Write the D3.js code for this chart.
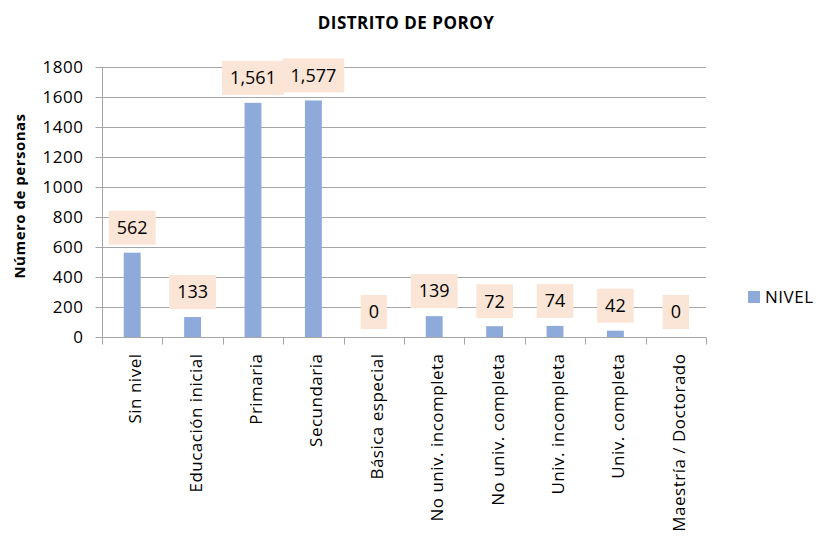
<!DOCTYPE html>
<html>
<head>
<meta charset="utf-8">
<script src="https://cdn.jsdelivr.net/npm/d3@7"></script>
<style>
  html, body { margin: 0; padding: 0; background: #fff; }
  svg { display: block; font-family: "Open Sans", sans-serif; }
</style>
</head>
<body>
<svg id="chart" width="816" height="536"></svg>
<script>
  // Data
  var categories = ["Sin nivel", "Educación inicial", "Primaria", "Secundaria", "Básica especial",
                    "No univ. incompleta", "No univ. completa", "Univ. incompleta", "Univ. completa",
                    "Maestría / Doctorado"];
  var values = [562, 133, 1561, 1577, 0, 139, 72, 74, 42, 0];
  var yTicks = [0, 200, 400, 600, 800, 1000, 1200, 1400, 1600, 1800];
  var seriesName = "NIVEL";
  var chartTitle = "DISTRITO DE POROY";
  var yTitle = "Número de personas";

  var margin = { top: 67, right: 110, bottom: 199, left: 102 };
  var W = 816, H = 536;
  var w = W - margin.left - margin.right;
  var h = H - margin.top - margin.bottom;

  var barColor = "#8eaadb";
  var boxColor = "#fbe5d6";
  var gridColor = "#a6a6a6";

  var svg = d3.select("#chart");

  // title
  svg.append("text")
      .attr("x", 406)
      .attr("y", 29)
      .attr("text-anchor", "middle")
      .attr("font-size", "17px")
      .attr("letter-spacing", "0.5px")
      .attr("font-weight", "bold")
      .text(chartTitle);

  var g = svg.append("g")
      .attr("transform", "translate(" + margin.left + "," + margin.top + ")");

  var x = d3.scaleBand()
      .domain(categories)
      .range([0, w])
      .paddingInner(0.72)
      .paddingOuter(0.36);

  var y = d3.scaleLinear()
      .domain([0, 1800])
      .range([h, 0]);

  // gridlines
  g.append("g")
      .selectAll("line")
      .data(yTicks)
      .enter()
      .append("line")
      .attr("x1", 0)
      .attr("x2", w)
      .attr("y1", function(d) { return Math.round(y(d)) + 0.5; })
      .attr("y2", function(d) { return Math.round(y(d)) + 0.5; })
      .attr("stroke", gridColor);

  // y axis
  var yAxis = g.append("g")
      .attr("transform", "translate(0.5,0)")
      .call(d3.axisLeft(y).tickValues(yTicks).tickSize(7).tickPadding(12).tickFormat(d3.format("d")));
  yAxis.selectAll("line").attr("stroke", gridColor);
  yAxis.select(".domain").attr("stroke", gridColor).attr("d", "M0," + h + "V0");
  yAxis.selectAll("text")
      .attr("font-size", "17px")
      .attr("letter-spacing", "0.5px")
      .attr("font-family", "Open Sans, sans-serif")
      .attr("fill", "#000");

  // x axis: ticks at category boundaries
  var step = x.step();
  var xAxis = g.append("g")
      .attr("transform", "translate(0," + (Math.round(h) + 0.5) + ")");
  xAxis.append("line")
      .attr("x1", 0).attr("x2", w)
      .attr("stroke", gridColor);
  xAxis.selectAll("line.tick")
      .data(d3.range(categories.length + 1))
      .enter()
      .append("line")
      .attr("class", "tick")
      .attr("x1", function(i) { return Math.round(i * step) + 0.5; })
      .attr("x2", function(i) { return Math.round(i * step) + 0.5; })
      .attr("y1", 0)
      .attr("y2", 7)
      .attr("stroke", gridColor);
  xAxis.selectAll("text")
      .data(categories)
      .enter()
      .append("text")
      .attr("transform", function(d) {
        return "translate(" + (x(d) + x.bandwidth() / 2 + 9) + ",16) rotate(-90)";
      })
      .attr("text-anchor", "end")
      .attr("font-size", "17px")
      .attr("letter-spacing", "0.5px")
      .text(function(d) { return d; });

  // bars
  g.selectAll("rect.bar")
      .data(values)
      .enter()
      .append("rect")
      .attr("class", "bar")
      .attr("x", function(d, i) { return x(categories[i]); })
      .attr("y", function(d) { return y(d); })
      .attr("width", x.bandwidth())
      .attr("height", function(d) { return h - y(d); })
      .attr("fill", barColor);

  // data labels in boxes
  var fmt = d3.format(",");
  var labels = g.selectAll("g.lbl")
      .data(values)
      .enter()
      .append("g")
      .attr("class", "lbl")
      .attr("transform", function(d, i) {
        return "translate(" + (x(categories[i]) + x.bandwidth() / 2) + "," + (y(d) - 8 - 17) + ")";
      });
  labels.append("rect").attr("fill", boxColor);
  labels.append("text")
      .attr("text-anchor", "middle")
      .attr("dy", "0.35em")
      .attr("font-size", "18px")
      .text(function(d) { return fmt(d); });
  labels.each(function() {
    var gg = d3.select(this);
    var tw = gg.select("text").node().getComputedTextLength();
    gg.select("rect")
      .attr("x", -tw / 2 - 8)
      .attr("y", -17)
      .attr("width", tw + 16)
      .attr("height", 34);
  });

  // y axis title
  svg.append("text")
      .attr("transform", "translate(25,196) rotate(-90)")
      .attr("text-anchor", "middle")
      .attr("font-size", "15px")
      .attr("letter-spacing", "0.5px")
      .attr("font-weight", "bold")
      .text(yTitle);

  // legend
  var legend = svg.append("g").attr("transform", "translate(748,291)");
  legend.append("rect")
      .attr("width", 12).attr("height", 12)
      .attr("fill", barColor);
  legend.append("text")
      .attr("x", 17)
      .attr("y", 6)
      .attr("dy", "0.35em")
      .attr("font-size", "17px")
      .attr("letter-spacing", "0.5px")
      .text(seriesName);
</script>
</body>
</html>
